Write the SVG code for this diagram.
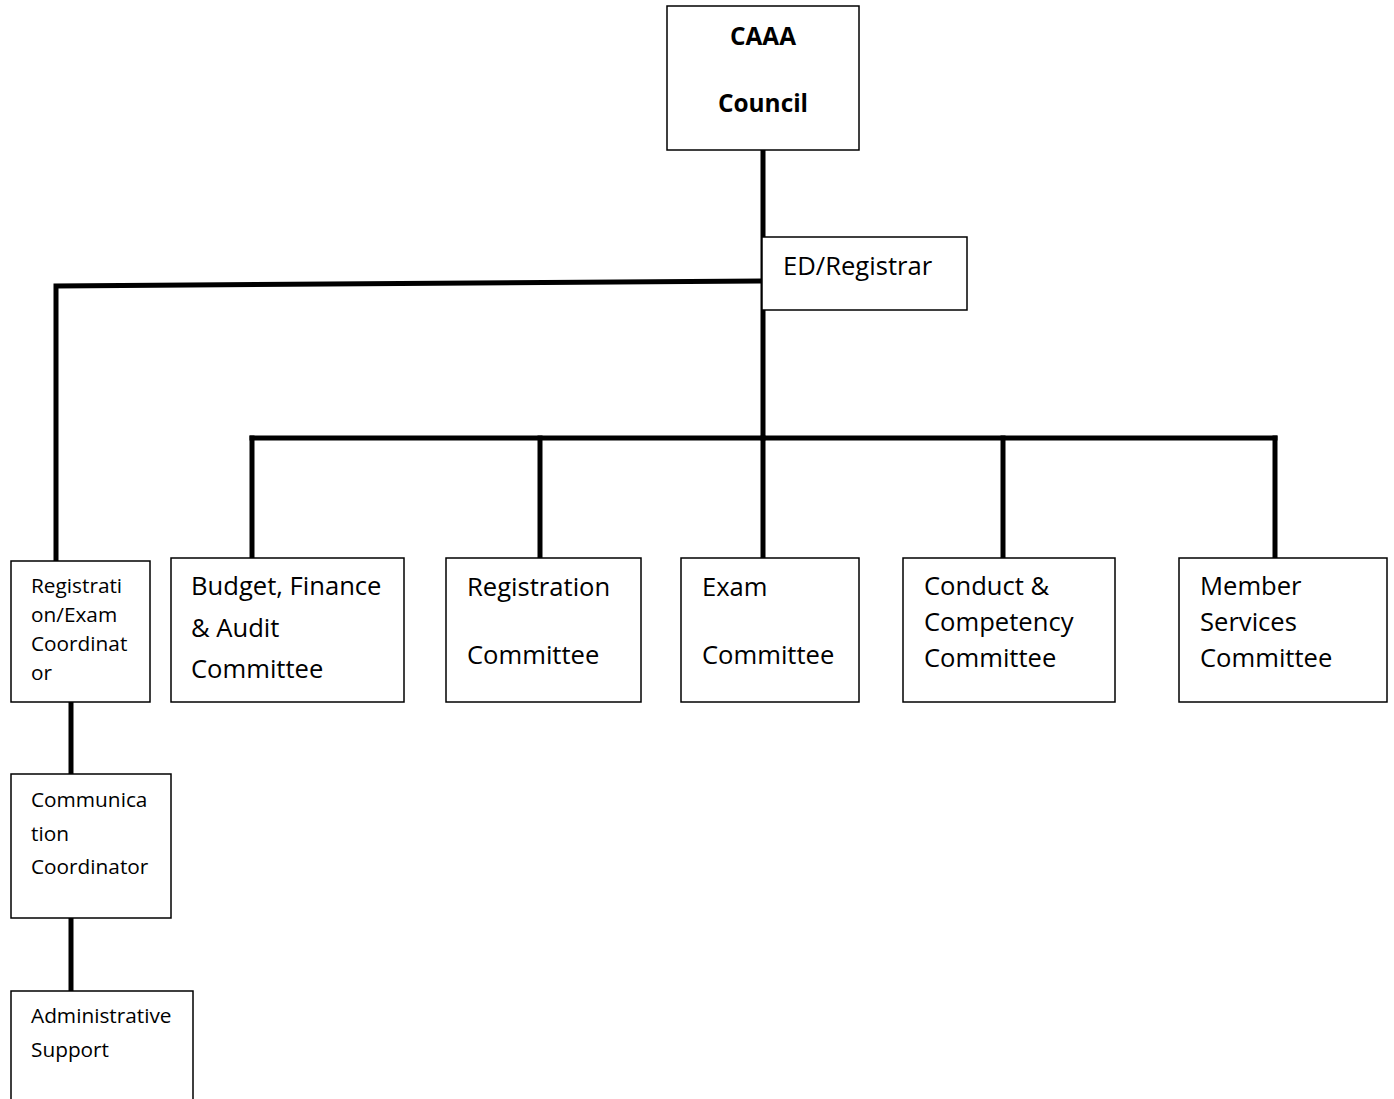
<svg xmlns="http://www.w3.org/2000/svg" width="1394" height="1099" viewBox="0 0 1394 1099">
<style>
.box{fill:#fff;stroke:#000;stroke-width:1.5}
.ln{stroke:#000;stroke-width:5;fill:none;stroke-linecap:square}
text{font-family:"Open Sans","DejaVu Sans",sans-serif;fill:#000}
.t{font-size:25.6px}
.s{font-size:20.8px}
.b{font-size:24.4px;font-weight:bold}
</style>
<rect width="1394" height="1099" fill="#fff"/>
<g id="connectors">
<line class="ln" x1="763" y1="151" x2="763" y2="438"/>
<polyline class="ln" points="760,281 56,286 56,559"/>
<line class="ln" x1="252" y1="438" x2="1275" y2="438"/>
<line class="ln" x1="252" y1="438" x2="252" y2="556"/>
<line class="ln" x1="540" y1="438" x2="540" y2="556"/>
<line class="ln" x1="763" y1="438" x2="763" y2="556"/>
<line class="ln" x1="1003" y1="438" x2="1003" y2="556"/>
<line class="ln" x1="1275" y1="438" x2="1275" y2="556"/>
<line class="ln" x1="71" y1="704" x2="71" y2="772"/>
<line class="ln" x1="71" y1="920" x2="71" y2="989"/>
</g>
<g id="council">
<rect class="box" x="667" y="6" width="192" height="144"/>
<text class="b" x="763" y="45" text-anchor="middle">CAAA</text>
<text class="b" x="763" y="112" text-anchor="middle">Council</text>
</g>
<g id="ed">
<rect class="box" x="762" y="237" width="205" height="73"/>
<text class="t" x="783" y="275">ED/Registrar</text>
</g>
<g id="regexam">
<rect class="box" x="11" y="561" width="139" height="141"/>
<text class="s" x="31" y="593">Registrati</text>
<text class="s" x="31" y="622">on/Exam</text>
<text class="s" x="31" y="651">Coordinat</text>
<text class="s" x="31" y="680">or</text>
</g>
<g id="budget">
<rect class="box" x="171" y="558" width="233" height="144"/>
<text class="t" x="191" y="595">Budget, Finance</text>
<text class="t" x="191" y="637">&amp; Audit</text>
<text class="t" x="191" y="678">Committee</text>
</g>
<g id="registration">
<rect class="box" x="446" y="558" width="195" height="144"/>
<text class="t" x="467" y="596">Registration</text>
<text class="t" x="467" y="664">Committee</text>
</g>
<g id="exam">
<rect class="box" x="681" y="558" width="178" height="144"/>
<text class="t" x="702" y="596">Exam</text>
<text class="t" x="702" y="664">Committee</text>
</g>
<g id="conduct">
<rect class="box" x="903" y="558" width="212" height="144"/>
<text class="t" x="924" y="595">Conduct &amp;</text>
<text class="t" x="924" y="631">Competency</text>
<text class="t" x="924" y="667">Committee</text>
</g>
<g id="member">
<rect class="box" x="1179" y="558" width="208" height="144"/>
<text class="t" x="1200" y="595">Member</text>
<text class="t" x="1200" y="631">Services</text>
<text class="t" x="1200" y="667">Committee</text>
</g>
<g id="comm">
<rect class="box" x="11" y="774" width="160" height="144"/>
<text class="s" x="31" y="807">Communica</text>
<text class="s" x="31" y="841">tion</text>
<text class="s" x="31" y="874">Coordinator</text>
</g>
<g id="admin">
<path class="box" d="M11,1100 V991 H193 V1100"/>
<text class="s" x="31" y="1023">Administrative</text>
<text class="s" x="31" y="1057">Support</text>
</g>
</svg>
